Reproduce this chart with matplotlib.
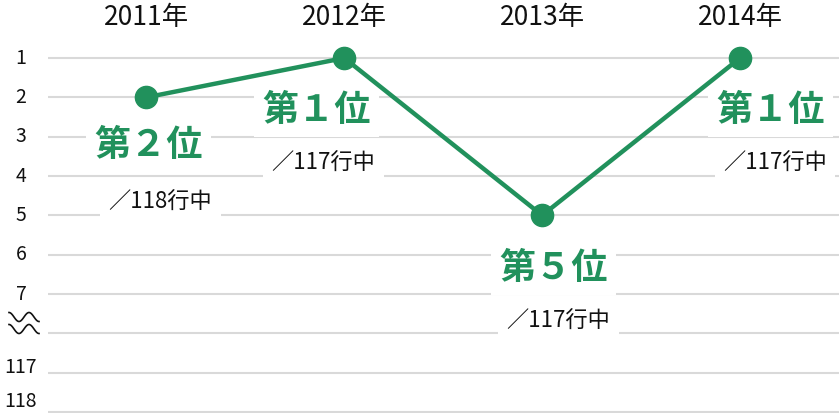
import numpy as np
import matplotlib
matplotlib.use("Agg")
import matplotlib.pyplot as plt

plt.rcParams['font.family'] = ['Noto Sans CJK JP', 'DejaVu Sans']

years = ["2011年", "2012年", "2013年", "2014年"]
ranks = [2, 1, 5, 1]
totals = [118, 117, 117, 117]
rank_labels = ["第２位", "第１位", "第５位", "第１位"]
axis_ticks = ["1", "2", "3", "4", "5", "6", "7", "", "117", "118"]

green = "#21915c"
W, H = 839, 413
fig = plt.figure(figsize=(W / 100, H / 100), dpi=100)
ax = fig.add_axes([48 / W, 0, 791 / W, 1])

x = np.arange(len(years))
y = [r - 1 for r in ranks]

ax.set_xlim(-0.497, 3.5)
ax.set_ylim(9.025, -1.475)
for i in range(len(axis_ticks)):
    ax.axhline(i, color="#d9d9d9", lw=1.5, zorder=0)
for s in ax.spines.values():
    s.set_visible(False)
ax.set_xticks([])
ax.set_yticks([])

ax.plot(x, y, color=green, lw=3.2, marker="o", ms=16, zorder=3)

# year labels on top
for xi, yr in zip(x, years):
    ax.text(xi, -1.02, yr, ha="center", va="center", fontsize=19, color="#111111")

# y axis labels
yoff = [0, 0, 0, 0, 0, 0, 0, 0, -0.13, -0.27]
for i, t in enumerate(axis_ticks):
    if t:
        ax.text(-27 / 791, i + yoff[i], t, transform=ax.get_yaxis_transform(),
                ha="center", va="center", fontsize=14, color="#111111")

big_off = [(2, -48), (-28, -52), (11, -53), (30, -52)]
small_off = [(14, -105), (-21, -105), (16, -106), (35, -105)]
box = dict(facecolor="white", edgecolor="none", pad=6)
for i in range(len(years)):
    ax.annotate(rank_labels[i], (x[i], y[i]), xytext=big_off[i], textcoords="offset pixels",
                ha="center", va="center", fontsize=26, fontweight="bold", color=green, bbox=box, zorder=2)
    ax.annotate("／%d行中" % totals[i], (x[i], y[i]), xytext=small_off[i], textcoords="offset pixels",
                ha="center", va="center", fontsize=16, color="#111111", bbox=box, zorder=2)

# break symbol on the axis
t = np.linspace(0, 1, 60)
for yc in (317, 329):
    xs = 9 + 30 * t
    ys = yc - 4.5 * np.cos(t * 2 * np.pi * 1.5)
    fig.add_artist(plt.Line2D(xs / W, 1 - ys / H, color="#111111", lw=1.2))

fig.savefig("out.png", dpi=100)
